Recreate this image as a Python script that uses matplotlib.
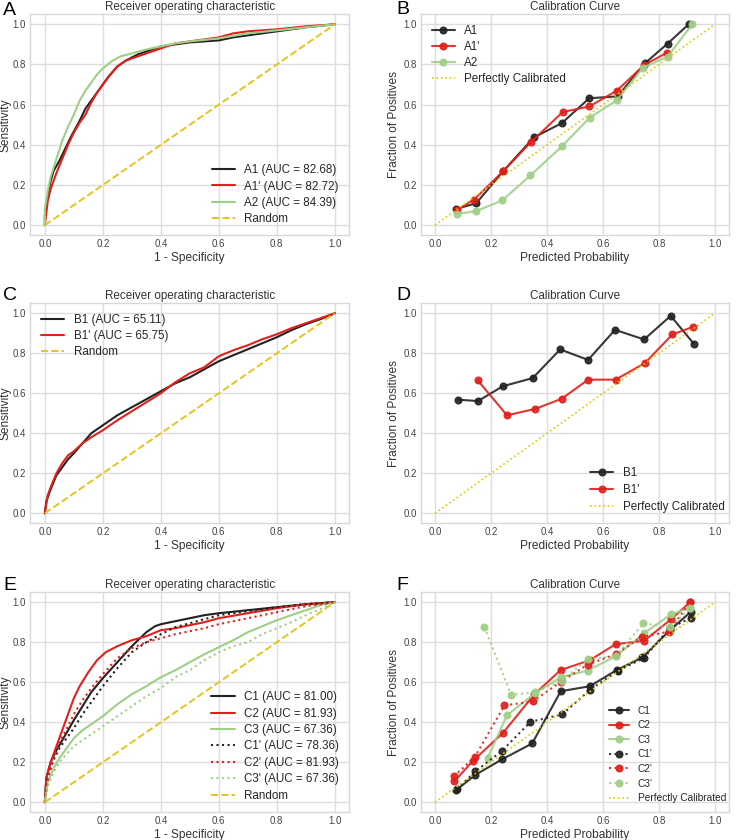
import matplotlib
matplotlib.use("Agg")
import matplotlib.pyplot as plt
import numpy as np

plt.style.use("seaborn-v0_8-whitegrid")
plt.rcParams['font.family'] = ['Liberation Sans', 'DejaVu Sans']

BLACK = '#222222'
RED = '#e0201c'
GREEN = '#9fcf86'
YEL = '#e3c51e'
CALY = '#dccb00'

# ---------------- Panel A ROC ----------------
a1_fpr = [0, 0, 0.01, 0.02, 0.03, 0.05, 0.07, 0.09, 0.12, 0.14, 0.16, 0.18, 0.20, 0.22, 0.25, 0.28, 0.32, 0.36, 0.40, 0.45, 0.50, 0.55, 0.60, 0.65, 0.70, 0.80, 0.90, 1.0]
a1_tpr = [0, 0.05, 0.15, 0.22, 0.27, 0.32, 0.38, 0.44, 0.52, 0.58, 0.62, 0.66, 0.70, 0.74, 0.79, 0.82, 0.85, 0.87, 0.89, 0.90, 0.91, 0.915, 0.92, 0.935, 0.945, 0.965, 0.985, 1.0]
a1p_fpr = [0, 0.01, 0.02, 0.04, 0.06, 0.08, 0.10, 0.12, 0.14, 0.16, 0.18, 0.20, 0.22, 0.25, 0.28, 0.32, 0.36, 0.40, 0.45, 0.50, 0.60, 0.65, 0.70, 0.80, 0.90, 1.0]
a1p_tpr = [0, 0.12, 0.18, 0.26, 0.33, 0.40, 0.46, 0.51, 0.55, 0.61, 0.66, 0.70, 0.74, 0.79, 0.82, 0.84, 0.86, 0.88, 0.905, 0.915, 0.935, 0.955, 0.965, 0.975, 0.99, 1.0]
a2_fpr = [0, 0, 0.01, 0.02, 0.04, 0.06, 0.08, 0.10, 0.12, 0.14, 0.16, 0.18, 0.20, 0.23, 0.26, 0.30, 0.35, 0.40, 0.45, 0.50, 0.60, 0.70, 0.80, 0.90, 1.0]
a2_tpr = [0, 0.08, 0.17, 0.24, 0.33, 0.42, 0.49, 0.55, 0.62, 0.67, 0.71, 0.75, 0.78, 0.815, 0.84, 0.855, 0.875, 0.89, 0.905, 0.915, 0.93, 0.955, 0.97, 0.985, 1.0]

# ---------------- Panel B calibration ----------------
cb_a1_x = [0.076, 0.147, 0.243, 0.353, 0.453, 0.551, 0.652, 0.750, 0.831, 0.906]
cb_a1_y = [0.081, 0.109, 0.268, 0.437, 0.508, 0.632, 0.641, 0.806, 0.904, 1.0]
cb_a1p_x = [0.078, 0.139, 0.243, 0.343, 0.456, 0.551, 0.649, 0.748, 0.829]
cb_a1p_y = [0.075, 0.127, 0.268, 0.414, 0.563, 0.591, 0.669, 0.798, 0.859]
cb_a2_x = [0.078, 0.147, 0.240, 0.341, 0.453, 0.553, 0.649, 0.744, 0.831, 0.919]
cb_a2_y = [0.056, 0.070, 0.123, 0.248, 0.392, 0.536, 0.621, 0.785, 0.839, 1.0]

# ---------------- Panel C ROC ----------------
b1_fpr = [0, 0.005, 0.02, 0.04, 0.06, 0.08, 0.10, 0.13, 0.16, 0.20, 0.25, 0.30, 0.35, 0.40, 0.45, 0.50, 0.55, 0.60, 0.65, 0.70, 0.75, 0.80, 0.85, 0.90, 0.95, 1.0]
b1_tpr = [0, 0.06, 0.12, 0.19, 0.23, 0.27, 0.30, 0.35, 0.40, 0.44, 0.49, 0.53, 0.57, 0.61, 0.65, 0.68, 0.72, 0.76, 0.79, 0.82, 0.85, 0.88, 0.915, 0.945, 0.97, 1.0]
b1p_fpr = [0, 0.01, 0.02, 0.04, 0.06, 0.08, 0.10, 0.13, 0.16, 0.20, 0.25, 0.30, 0.35, 0.40, 0.45, 0.50, 0.55, 0.60, 0.65, 0.70, 0.75, 0.80, 0.85, 0.90, 0.95, 1.0]
b1p_tpr = [0, 0.09, 0.13, 0.20, 0.25, 0.29, 0.31, 0.35, 0.38, 0.415, 0.465, 0.51, 0.555, 0.60, 0.655, 0.70, 0.73, 0.785, 0.815, 0.84, 0.87, 0.895, 0.925, 0.95, 0.975, 1.0]

# ---------------- Panel D calibration ----------------
cd_b1_x = [0.082, 0.153, 0.242, 0.349, 0.447, 0.547, 0.643, 0.747, 0.842, 0.925]
cd_b1_y = [0.568, 0.561, 0.635, 0.676, 0.819, 0.767, 0.917, 0.869, 0.987, 0.847]
cd_b1p_x = [0.153, 0.257, 0.358, 0.453, 0.547, 0.645, 0.750, 0.848, 0.922]
cd_b1p_y = [0.664, 0.490, 0.522, 0.573, 0.668, 0.668, 0.751, 0.894, 0.932]

# ---------------- Panel E ROC ----------------
c1_fpr = [0, 0.005, 0.02, 0.04, 0.06, 0.08, 0.10, 0.13, 0.16, 0.20, 0.25, 0.30, 0.35, 0.38, 0.40, 0.45, 0.50, 0.55, 0.60, 0.70, 0.80, 0.90, 1.0]
c1_tpr = [0, 0.12, 0.20, 0.26, 0.31, 0.36, 0.41, 0.48, 0.55, 0.62, 0.70, 0.78, 0.85, 0.88, 0.89, 0.905, 0.92, 0.935, 0.945, 0.96, 0.975, 0.99, 1.0]
c2_fpr = [0, 0.005, 0.02, 0.04, 0.06, 0.08, 0.10, 0.12, 0.15, 0.18, 0.21, 0.25, 0.30, 0.35, 0.40, 0.45, 0.50, 0.55, 0.60, 0.70, 0.80, 0.90, 1.0]
c2_tpr = [0, 0.12, 0.20, 0.28, 0.36, 0.44, 0.52, 0.58, 0.65, 0.71, 0.75, 0.78, 0.81, 0.83, 0.86, 0.87, 0.885, 0.90, 0.92, 0.945, 0.97, 0.99, 1.0]
c3_fpr = [0, 0.01, 0.03, 0.05, 0.08, 0.10, 0.13, 0.16, 0.20, 0.25, 0.30, 0.35, 0.40, 0.45, 0.50, 0.55, 0.60, 0.65, 0.70, 0.75, 0.80, 0.85, 0.90, 0.95, 1.0]
c3_tpr = [0, 0.10, 0.17, 0.22, 0.28, 0.32, 0.36, 0.39, 0.43, 0.49, 0.54, 0.58, 0.625, 0.66, 0.70, 0.74, 0.775, 0.81, 0.85, 0.88, 0.91, 0.935, 0.96, 0.985, 1.0]
c1p_fpr = [0, 0.01, 0.03, 0.05, 0.08, 0.10, 0.13, 0.16, 0.20, 0.25, 0.30, 0.35, 0.40, 0.45, 0.50, 0.55, 0.60, 0.70, 0.80, 0.90, 1.0]
c1p_tpr = [0, 0.13, 0.21, 0.27, 0.33, 0.37, 0.44, 0.50, 0.58, 0.67, 0.75, 0.80, 0.84, 0.875, 0.895, 0.915, 0.935, 0.955, 0.975, 0.99, 1.0]
c2p_fpr = [0, 0.01, 0.03, 0.05, 0.08, 0.10, 0.13, 0.16, 0.20, 0.25, 0.30, 0.35, 0.40, 0.45, 0.50, 0.55, 0.60, 0.70, 0.80, 0.90, 1.0]
c2p_tpr = [0, 0.12, 0.22, 0.30, 0.38, 0.44, 0.51, 0.57, 0.64, 0.72, 0.77, 0.80, 0.82, 0.84, 0.855, 0.87, 0.89, 0.92, 0.95, 0.98, 1.0]
c3p_fpr = [0, 0.01, 0.03, 0.05, 0.08, 0.10, 0.13, 0.16, 0.20, 0.25, 0.30, 0.35, 0.40, 0.45, 0.50, 0.55, 0.60, 0.65, 0.70, 0.75, 0.80, 0.85, 0.90, 0.95, 1.0]
c3p_tpr = [0, 0.08, 0.15, 0.20, 0.25, 0.28, 0.31, 0.34, 0.38, 0.43, 0.48, 0.53, 0.57, 0.625, 0.66, 0.71, 0.75, 0.78, 0.80, 0.84, 0.87, 0.90, 0.935, 0.965, 1.0]

# ---------------- Panel F calibration ----------------
cf_c1_x = [0.076, 0.144, 0.240, 0.347, 0.449, 0.553, 0.649, 0.741, 0.839, 0.914]
cf_c1_y = [0.061, 0.137, 0.215, 0.294, 0.555, 0.580, 0.661, 0.724, 0.860, 0.952]
cf_c2_x = [0.069, 0.134, 0.243, 0.355, 0.449, 0.553, 0.645, 0.747, 0.843, 0.911]
cf_c2_y = [0.104, 0.205, 0.347, 0.540, 0.661, 0.710, 0.790, 0.807, 0.914, 1.0]
cf_c3_x = [0.188, 0.257, 0.357, 0.449, 0.545, 0.645, 0.747, 0.843, 0.911]
cf_c3_y = [0.223, 0.435, 0.545, 0.625, 0.658, 0.729, 0.845, 0.939, 0.972]
cf_c1p_x = [0.078, 0.144, 0.240, 0.341, 0.455, 0.554, 0.653, 0.745, 0.839, 0.914]
cf_c1p_y = [0.066, 0.154, 0.258, 0.402, 0.440, 0.562, 0.658, 0.720, 0.870, 0.922]
cf_c2p_x = [0.067, 0.142, 0.248, 0.349, 0.450, 0.545, 0.645, 0.738, 0.835, 0.911]
cf_c2p_y = [0.129, 0.226, 0.484, 0.504, 0.603, 0.688, 0.740, 0.826, 0.853, 1.0]
cf_c3p_x = [0.176, 0.272, 0.357, 0.453, 0.545, 0.645, 0.744, 0.839, 0.911]
cf_c3p_y = [0.876, 0.537, 0.550, 0.608, 0.716, 0.729, 0.894, 0.876, 0.970]

diag = [0, 1]

fig = plt.figure(figsize=(7.4, 8.4), dpi=100)

rows = [(0.720, 0.263), (0.377, 0.262), (0.033, 0.262)]
cols = [(0.041, 0.431), (0.569, 0.416)]
ylab_x = [-0.060, -0.068]

def make_ax(r, c):
    b, h = rows[r]
    l, w = cols[c]
    ax = fig.add_axes([l, b, w, h])
    ax.set_xlim(-0.05, 1.05)
    ax.set_ylim(-0.05, 1.05)
    ax.set_xticks(np.arange(0, 1.01, 0.2))
    ax.set_yticks(np.arange(0, 1.01, 0.2))
    ax.tick_params(labelsize=7, colors='#444444', pad=3)
    ax.grid(True, color='#dddddd', linewidth=1.0)
    for s in ax.spines.values():
        s.set_color('#d8d8d8')
        s.set_linewidth(1.0)
    ax.yaxis.set_label_coords(ylab_x[c], 0.5)
    return ax

TFS = 8.4
LFS = 8.6

def roc_style(ax):
    ax.set_title('Receiver operating characteristic', fontsize=TFS, color='#333333', pad=3)
    ax.set_xlabel('1 - Specificity', fontsize=LFS, color='#333333', labelpad=2)
    ax.set_ylabel('Sensitivity', fontsize=LFS, color='#333333')

def cal_style(ax):
    ax.set_title('Calibration Curve', fontsize=TFS, color='#333333', pad=3)
    ax.set_xlabel('Predicted Probability', fontsize=LFS, color='#333333', labelpad=2)
    ax.set_ylabel('Fraction of Positives', fontsize=LFS, color='#333333')

LW = 1.5
MS = 4.8
GFS = 8.4

# A
ax = make_ax(0, 0)
ax.plot(a1_fpr, a1_tpr, color=BLACK, lw=LW, label='A1 (AUC = 82.68)')
ax.plot(a1p_fpr, a1p_tpr, color=RED, lw=LW, label="A1' (AUC = 82.72)")
ax.plot(a2_fpr, a2_tpr, color=GREEN, lw=LW, label='A2 (AUC = 84.39)')
ax.plot(diag, diag, color=YEL, lw=1.4, ls='--', label='Random')
roc_style(ax)
ax.legend(loc='lower right', fontsize=GFS, frameon=False, labelspacing=0.35)

# B
ax = make_ax(0, 1)
ax.plot(cb_a1_x, cb_a1_y, color=BLACK, lw=LW, marker='o', ms=MS, alpha=0.9, label='A1')
ax.plot(cb_a1p_x, cb_a1p_y, color=RED, lw=LW, marker='o', ms=MS, alpha=0.9, label="A1'")
ax.plot(cb_a2_x, cb_a2_y, color=GREEN, lw=LW, marker='o', ms=MS, alpha=0.9, label='A2')
ax.plot(diag, diag, color=CALY, lw=1.2, ls=':', label='Perfectly Calibrated')
cal_style(ax)
ax.legend(loc='upper left', fontsize=GFS, frameon=False, labelspacing=0.35)

# C
ax = make_ax(1, 0)
ax.plot(b1_fpr, b1_tpr, color=BLACK, lw=LW, label='B1 (AUC = 65.11)')
ax.plot(b1p_fpr, b1p_tpr, color=RED, lw=LW, label="B1' (AUC = 65.75)")
ax.plot(diag, diag, color=YEL, lw=1.4, ls='--', label='Random')
roc_style(ax)
ax.legend(loc='upper left', fontsize=GFS, frameon=False, labelspacing=0.35)

# D
ax = make_ax(1, 1)
ax.plot(cd_b1_x, cd_b1_y, color=BLACK, lw=LW, marker='o', ms=MS, alpha=0.9, label='B1')
ax.plot(cd_b1p_x, cd_b1p_y, color=RED, lw=LW, marker='o', ms=MS, alpha=0.9, label="B1'")
ax.plot(diag, diag, color=CALY, lw=1.2, ls=':', label='Perfectly Calibrated')
cal_style(ax)
ax.legend(loc='lower right', fontsize=GFS, frameon=False, labelspacing=0.4,
          bbox_to_anchor=(1.02, 0.0))

# E
ax = make_ax(2, 0)
ax.plot(c1_fpr, c1_tpr, color=BLACK, lw=LW, label='C1 (AUC = 81.00)')
ax.plot(c2_fpr, c2_tpr, color=RED, lw=LW, label='C2 (AUC = 81.93)')
ax.plot(c3_fpr, c3_tpr, color=GREEN, lw=LW, label='C3 (AUC = 67.36)')
ax.plot(c1p_fpr, c1p_tpr, color=BLACK, lw=LW, ls=':', label="C1' (AUC = 78.36)")
ax.plot(c2p_fpr, c2p_tpr, color=RED, lw=LW, ls=':', label="C2' (AUC = 81.93)")
ax.plot(c3p_fpr, c3p_tpr, color=GREEN, lw=LW, ls=':', label="C3' (AUC = 67.36)")
ax.plot(diag, diag, color=YEL, lw=1.4, ls='--', label='Random')
roc_style(ax)
ax.legend(loc='lower right', fontsize=GFS, frameon=False, labelspacing=0.38)

# F
ax = make_ax(2, 1)
ax.plot(cf_c1_x, cf_c1_y, color=BLACK, lw=LW, marker='o', ms=MS, alpha=0.9, label='C1')
ax.plot(cf_c2_x, cf_c2_y, color=RED, lw=LW, marker='o', ms=MS, alpha=0.9, label='C2')
ax.plot(cf_c3_x, cf_c3_y, color=GREEN, lw=LW, marker='o', ms=MS, alpha=0.9, label='C3')
ax.plot(cf_c1p_x, cf_c1p_y, color=BLACK, lw=LW, ls=':', marker='o', ms=MS, alpha=0.9, label="C1'")
ax.plot(cf_c2p_x, cf_c2p_y, color=RED, lw=LW, ls=':', marker='o', ms=MS, alpha=0.9, label="C2'")
ax.plot(cf_c3p_x, cf_c3p_y, color=GREEN, lw=LW, ls=':', marker='o', ms=MS, alpha=0.9, label="C3'")
ax.plot(diag, diag, color=CALY, lw=1.2, ls=':', label='Perfectly Calibrated')
cal_style(ax)
ax.legend(loc='lower right', fontsize=7.3, frameon=False, labelspacing=0.45,
          bbox_to_anchor=(1.02, 0.0))

# Panel letters
for lab, x, y in [('A', 0.004, 0.982), ('B', 0.536, 0.983), ('C', 0.004, 0.643), ('D', 0.536, 0.643),
                  ('E', 0.004, 0.298), ('F', 0.536, 0.298)]:
    fig.text(x, y, lab, fontsize=14, va='baseline', ha='left', color='black')

fig.savefig('out.png', dpi=100)
